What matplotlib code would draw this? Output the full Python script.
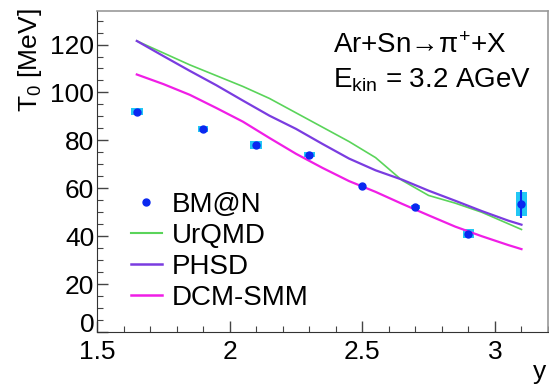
import matplotlib
matplotlib.use("Agg")
import matplotlib.pyplot as plt
import matplotlib.transforms as mtransforms
from matplotlib.patches import Rectangle
from matplotlib.lines import Line2D
from matplotlib.ticker import MultipleLocator

plt.rcParams['font.family'] = ['Liberation Sans', 'DejaVu Sans']
plt.rcParams['mathtext.fontset'] = 'custom'
plt.rcParams['mathtext.rm'] = 'Liberation Sans'
plt.rcParams['mathtext.it'] = 'Liberation Sans:italic'
plt.rcParams['mathtext.sf'] = 'Liberation Sans'

# BM@N data
bmn_y = [1.65, 1.90, 2.10, 2.30, 2.50, 2.70, 2.90, 3.10]
bmn_T = [92.0, 84.7, 78.0, 74.0, 60.8, 52.2, 41.1, 53.4]
bmn_stat = [0.8, 0.8, 0.8, 0.8, 0.8, 0.8, 0.8, 5.8]
bmn_sys = [1.4, 1.2, 1.6, 1.0, 0.8, 1.0, 1.9, 4.9]
bmn_sysx = [0.022, 0.020, 0.022, 0.020, 0.012, 0.018, 0.020, 0.021]

# model curves
model_y = [1.65, 1.75, 1.85, 1.95, 2.05, 2.15, 2.25, 2.35, 2.45, 2.55, 2.65, 2.75, 2.85, 2.95, 3.05, 3.10]
urqmd_T = [121.5, 116.5, 111.5, 107.0, 102.5, 97.5, 91.5, 85.5, 79.5, 72.8, 63.3, 57.0, 53.8, 50.0, 45.2, 42.8]
phsd_T = [121.5, 115.2, 109.0, 103.0, 96.6, 90.3, 84.8, 78.5, 72.4, 67.5, 63.6, 59.0, 54.8, 50.5, 46.5, 44.8]
dcm_T = [107.5, 103.5, 99.0, 93.5, 87.8, 81.0, 74.4, 68.5, 63.0, 58.5, 53.5, 48.7, 44.0, 40.0, 36.3, 34.6]

fig = plt.figure(figsize=(5.49, 3.84), dpi=100)
ax = fig.add_axes([97/549, 52/384, 451/549, 321/384])

col_urqmd = '#5ad45a'
col_phsd = '#7a3ce0'
col_dcm = '#f01ee6'
col_sys = '#22c8f5'
col_pt = '#0a28f0'

for x, t, s, sx in zip(bmn_y, bmn_T, bmn_sys, bmn_sysx):
    ax.add_patch(Rectangle((x - sx, t - s), 2 * sx, 2 * s, facecolor=col_sys,
                           edgecolor='none', zorder=2))
ax.errorbar(bmn_y, bmn_T, yerr=bmn_stat, fmt='o', color=col_pt, ms=5,
            elinewidth=1.5, capsize=0, zorder=4)

ax.plot(model_y, urqmd_T, color=col_urqmd, lw=1.2, zorder=3)
ax.plot(model_y, phsd_T, color=col_phsd, lw=1.6, zorder=3)
ax.plot(model_y, dcm_T, color=col_dcm, lw=1.6, zorder=3)

ax.set_xlim(1.5, 3.2)
ax.set_ylim(0, 134)
ax.xaxis.set_major_locator(MultipleLocator(0.5))
ax.xaxis.set_minor_locator(MultipleLocator(0.1))
ax.yaxis.set_major_locator(MultipleLocator(20))
ax.yaxis.set_minor_locator(MultipleLocator(5))
ax.set_xticks([1.5, 2, 2.5, 3])
ax.set_xticklabels(['1.5', '2', '2.5', '3'])
ax.tick_params(axis='both', which='both', direction='in', labelsize=19,
               top=False, right=False, color='#444444')
ax.tick_params(axis='both', which='major', length=8, width=1)
ax.tick_params(axis='both', which='minor', length=4, width=0.8)
ax.tick_params(axis='x', pad=6)
ax.tick_params(axis='y', pad=2)
for sp in ['top', 'right']:
    ax.spines[sp].set_color('#999999')
    ax.spines[sp].set_linewidth(1.2)
for sp in ['left', 'bottom']:
    ax.spines[sp].set_color('#333333')

# raise the "0" y tick label like in the reference (sits just above the x axis)
fig.canvas.draw()
for lab in ax.get_yticklabels():
    if lab.get_text() == '0':
        lab.set_transform(lab.get_transform() +
                          mtransforms.ScaledTranslation(0, 9/100, fig.dpi_scale_trans))

fig.text(30/549, 1 - 8/384, r'T$_0$ [MeV]', rotation=90, ha='center', va='top', fontsize=19)
fig.text(540/549, 1 - 372/384, 'y', ha='center', va='center', fontsize=19)

ax.text(333/549, 1 - 53/384, 'Ar+Sn\u2192\u03c0$^{+}$+X', transform=fig.transFigure,
        ha='left', va='baseline', fontsize=20)
ax.text(333/549, 1 - 87/384, r'E$_{\mathrm{kin}}$ = 3.2 AGeV', transform=fig.transFigure,
        ha='left', va='baseline', fontsize=20)

handles = [
    Line2D([], [], color=col_pt, marker='o', ls='none', ms=5),
    Line2D([], [], color=col_urqmd, lw=1.5),
    Line2D([], [], color=col_phsd, lw=1.8),
    Line2D([], [], color=col_dcm, lw=1.8),
]
labels = ['BM@N', 'UrQMD', 'PHSD', 'DCM-SMM']
leg = ax.legend(handles, labels, loc='upper left', bbox_to_anchor=(131/549, 1 - 192/384),
                bbox_transform=fig.transFigure, frameon=False, fontsize=20,
                handlelength=1.1, handletextpad=0.36, labelspacing=0.18,
                borderpad=0, borderaxespad=0)

fig.savefig('out.png', dpi=100)
